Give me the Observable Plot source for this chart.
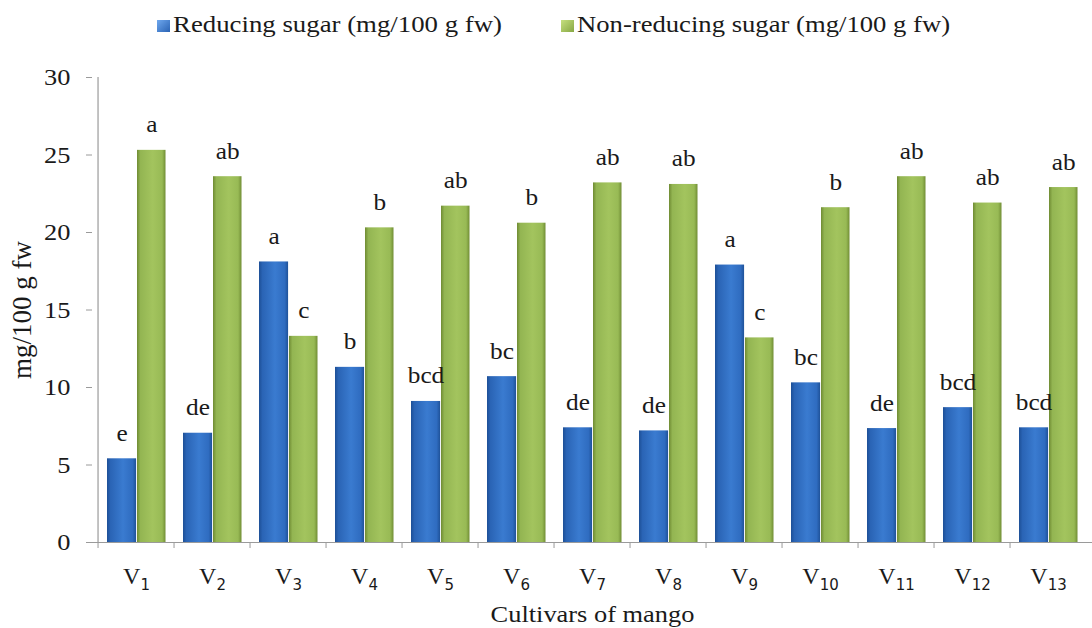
<!DOCTYPE html>
<html>
<head>
<meta charset="utf-8">
<script src="https://cdn.jsdelivr.net/npm/d3@7"></script>
<script src="https://cdn.jsdelivr.net/npm/@observablehq/plot@0.6"></script>
<style>
  body { margin: 0; background: #fff; }
  #wrap { position: relative; width: 1092px; height: 628px; overflow: hidden; background: #fff; font-family: "Liberation Serif", "Times New Roman", Times, Tinos, serif; color: #1a1a1a; }
  #legend { position: relative; width: 1092px; height: 50px; }
  .sw { position: absolute; top: 20px; width: 13px; height: 12px; }
  .lt { position: absolute; top: 13px; font-size: 23px; line-height: 23px; white-space: nowrap; transform-origin: 0 0; }
</style>
</head>
<body>
<div id="wrap">
  <div id="legend"></div>
  <div id="chart"></div>
</div>
<script>
// ---- data ----
const cultivars = ["V1","V2","V3","V4","V5","V6","V7","V8","V9","V10","V11","V12","V13"];
const reducing    = [5.4, 7.05, 18.1, 11.3, 9.1, 10.7, 7.4, 7.2, 17.9, 10.3, 7.35, 8.7, 7.4];
const nonReducing = [25.3, 23.6, 13.3, 20.3, 21.7, 20.6, 23.2, 23.1, 13.2, 21.6, 23.6, 21.9, 22.9];
const reducingLetters    = ["e","de","a","b","bcd","bc","de","de","a","bc","de","bcd","bcd"];
const nonReducingLetters = ["a","ab","c","b","ab","b","ab","ab","c","b","ab","ab","ab"];
const yTicks = [0, 5, 10, 15, 20, 25, 30];
const seriesNames = ["Reducing sugar (mg/100 g fw)", "Non-reducing sugar (mg/100 g fw)"];
const xTitle = "Cultivars of mango";
const yTitle = "mg/100 g fw";

const data = cultivars.map((c, i) => ({
  cultivar: c,
  reducing: reducing[i],
  nonReducing: nonReducing[i],
  rl: reducingLetters[i],
  nl: nonReducingLetters[i]
}));

const FONT = '"Liberation Serif", "Times New Roman", Times, Tinos, serif';

// ---- legend ----
const legend = document.getElementById("legend");
const swatchFills = [
  "linear-gradient(135deg,#6fa8ee,#2a63b4)",
  "linear-gradient(135deg,#c6e07f,#86a743)"
];
const legendPos = [{sw: 157, tx: 173, end: 502}, {sw: 561, tx: 577, end: 950}];
seriesNames.forEach((name, i) => {
  const sw = document.createElement("span");
  sw.className = "sw";
  sw.style.left = legendPos[i].sw + "px";
  sw.style.background = swatchFills[i];
  legend.appendChild(sw);
  const t = document.createElement("span");
  t.className = "lt";
  t.style.left = legendPos[i].tx + "px";
  t.textContent = name;
  legend.appendChild(t);
  const w = t.getBoundingClientRect().width;
  t.style.transform = `scaleX(${(legendPos[i].end - legendPos[i].tx) / w})`;
});

// ---- chart ----
const W = 1092, H = 578, ML = 92, MR = 0, MT = 27, MB = 86;
const bw = (W - ML - MR) / cultivars.length;
const axisGray = "#9a9a9a";

const chart = Plot.plot({
  width: W, height: H,
  marginLeft: ML, marginRight: MR, marginTop: MT, marginBottom: MB,
  style: { fontFamily: FONT, fontSize: "23px", color: "#1a1a1a", background: "#fff", overflow: "visible" },
  x: { domain: cultivars, padding: 0 },
  y: { domain: [0, 30] },
  marks: [
    Plot.barY(data, { x: "cultivar", y: "reducing", fill: "url(#gBlue)", insetLeft: 9, insetRight: bw - 39 }),
    Plot.barY(data, { x: "cultivar", y: "nonReducing", fill: "url(#gGreen)", insetLeft: 39, insetRight: 8.5 }),
    Plot.ruleY([0], { stroke: axisGray, strokeWidth: 1.2 }),
    Plot.ruleX([cultivars[0]], { y1: 0, y2: 30, dx: -bw / 2, stroke: axisGray, strokeWidth: 1.2 }),
    Plot.axisY({ ticks: yTicks, tickSize: 6, tickPadding: 16, label: null, stroke: axisGray, fontSize: 24, fontFamily: FONT }),
    Plot.axisX({ tickSize: 6, tickFormat: () => "", dx: -bw / 2, label: null, stroke: axisGray }),
    Plot.axisX({ tickSize: 0, tickPadding: 24, label: null, fontSize: 24, fontFamily: FONT, tickFormat: d => d }),
    Plot.text(data, { x: "cultivar", y: "reducing", text: "rl", dx: -14.5, dy: -18, lineAnchor: "bottom", fontSize: 23, fontFamily: FONT }),
    Plot.text(data, { x: "cultivar", y: "nonReducing", text: "nl", dx: 15.3, dy: -18, lineAnchor: "bottom", fontSize: 23, fontFamily: FONT }),
    Plot.text([xTitle], { text: d => d, frameAnchor: "bottom", dy: 79, lineAnchor: "bottom", fontSize: 24, fontFamily: FONT }),
    Plot.text([yTitle], { text: d => d, frameAnchor: "left", dx: -70, rotate: -90, lineAnchor: "middle", textAnchor: "middle", fontSize: 27, fontFamily: FONT })
  ]
});

// gradients for the bars
const ns = "http://www.w3.org/2000/svg";
const defs = document.createElementNS(ns, "defs");
defs.innerHTML = `
  <linearGradient id="gBlue" x1="0" x2="1" y1="0" y2="0">
    <stop offset="0" stop-color="#1d4f96"/>
    <stop offset="0.12" stop-color="#2a64b5"/>
    <stop offset="0.55" stop-color="#3a7bd0"/>
    <stop offset="0.88" stop-color="#2f6cc0"/>
    <stop offset="1" stop-color="#1f5299"/>
  </linearGradient>
  <linearGradient id="gGreen" x1="0" x2="1" y1="0" y2="0">
    <stop offset="0" stop-color="#6f8b33"/>
    <stop offset="0.12" stop-color="#93b552"/>
    <stop offset="0.55" stop-color="#a3c45e"/>
    <stop offset="0.88" stop-color="#98ba55"/>
    <stop offset="1" stop-color="#718e35"/>
  </linearGradient>`;
chart.insertBefore(defs, chart.firstChild);
document.getElementById("chart").appendChild(chart);

// subscript digits in the cultivar tick labels
chart.querySelectorAll('g[aria-label="x-axis tick label"] text').forEach(t => {
  const m = (t.textContent || "").match(/^V(\d+)$/);
  if (!m) return;
  t.textContent = "V";
  const ts = document.createElementNS(ns, "tspan");
  ts.setAttribute("font-size", "15");
  ts.setAttribute("font-family", '"DejaVu Sans", sans-serif');
  ts.setAttribute("dy", "6");
  ts.textContent = m[1];
  t.appendChild(ts);
});

// widen horizontal texts slightly, as in the reference
const k = 1.1;
chart.querySelectorAll("text").forEach(t => {
  if (t.querySelector("tspan")) return;
  const tr = (t.getAttribute("transform") || "") + (t.parentNode.getAttribute("transform") || "");
  if (tr.includes("rotate")) return;
  const L = t.getComputedTextLength();
  if (L > 0) {
    t.setAttribute("textLength", (L * k).toFixed(2));
    t.setAttribute("lengthAdjust", "spacingAndGlyphs");
  }
});
</script>
</body>
</html>
